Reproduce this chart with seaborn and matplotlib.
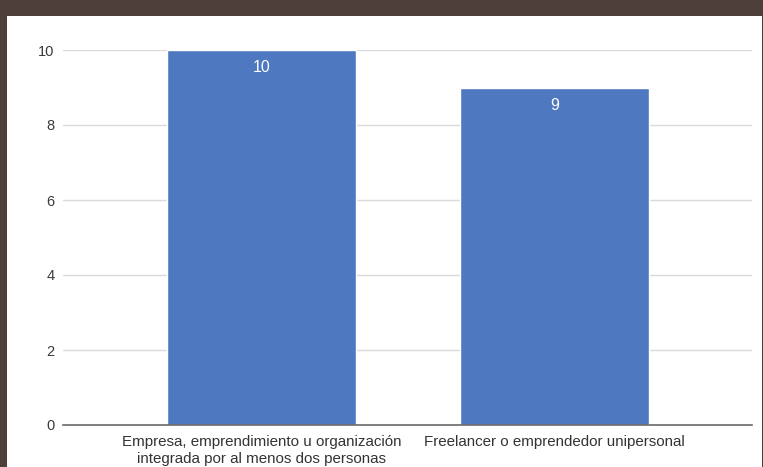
import matplotlib
matplotlib.use("Agg")
import matplotlib.pyplot as plt
import seaborn as sns
import pandas as pd
from matplotlib.patches import Rectangle

categories = [
    "Empresa, emprendimiento u organización\nintegrada por al menos dos personas",
    "Freelancer o emprendedor unipersonal",
]
values = [10, 9]
yticks = [0, 2, 4, 6, 8, 10]

df = pd.DataFrame({"tipo": categories, "cantidad": values})

sns.set_theme(style="white")
plt.rcParams["font.family"] = ["Liberation Sans", "DejaVu Sans"]

W, H = 763, 467
fig = plt.figure(figsize=(W / 100, H / 100), dpi=100)
fig.patch.set_facecolor("#4d3f3a")
fig.patches.append(Rectangle((7 / W, 0), (762 - 7) / W, (H - 16) / H,
                             transform=fig.transFigure, facecolor="white",
                             edgecolor="none", zorder=-5))

ax = fig.add_axes([63 / W, (H - 425) / H, (752 - 63) / W, (425 - 50) / H])
ax.set_zorder(2)
ax.set_facecolor("none")

bar_color = "#4e79c0"
sns.barplot(data=df, x="tipo", y="cantidad", color=bar_color, width=0.645,
            saturation=1, ax=ax, zorder=3)

ax.set_xlim(-0.677, 1.674)
ax.set_ylim(0, 10)
ax.set_yticks(yticks)
ax.set_yticklabels([str(t) for t in yticks], fontsize=10.5, color="#3a3a3a")
ax.grid(axis="y", color="#dadada", linewidth=1.0, zorder=0)
ax.set_axisbelow(True)
for s in ["top", "right", "left"]:
    ax.spines[s].set_visible(False)
ax.spines["bottom"].set_color("#6a6a6a")
ax.spines["bottom"].set_linewidth(1.2)
ax.spines["bottom"].set_zorder(4)
ax.tick_params(axis="both", length=0)
ax.tick_params(axis="y", pad=6)
ax.tick_params(axis="x", pad=7)
for lbl in ax.get_xticklabels():
    lbl.set_fontsize(10.9)
    lbl.set_color("#333333")
    lbl.set_linespacing(1.3)
ax.set_xlabel("")
ax.set_ylabel("")

for container in ax.containers:
    ax.bar_label(container, labels=[str(v) for v in values], padding=-18,
                 color="white", fontsize=11.5, zorder=5)

fig.savefig("out.png", dpi=100, facecolor=fig.get_facecolor())
